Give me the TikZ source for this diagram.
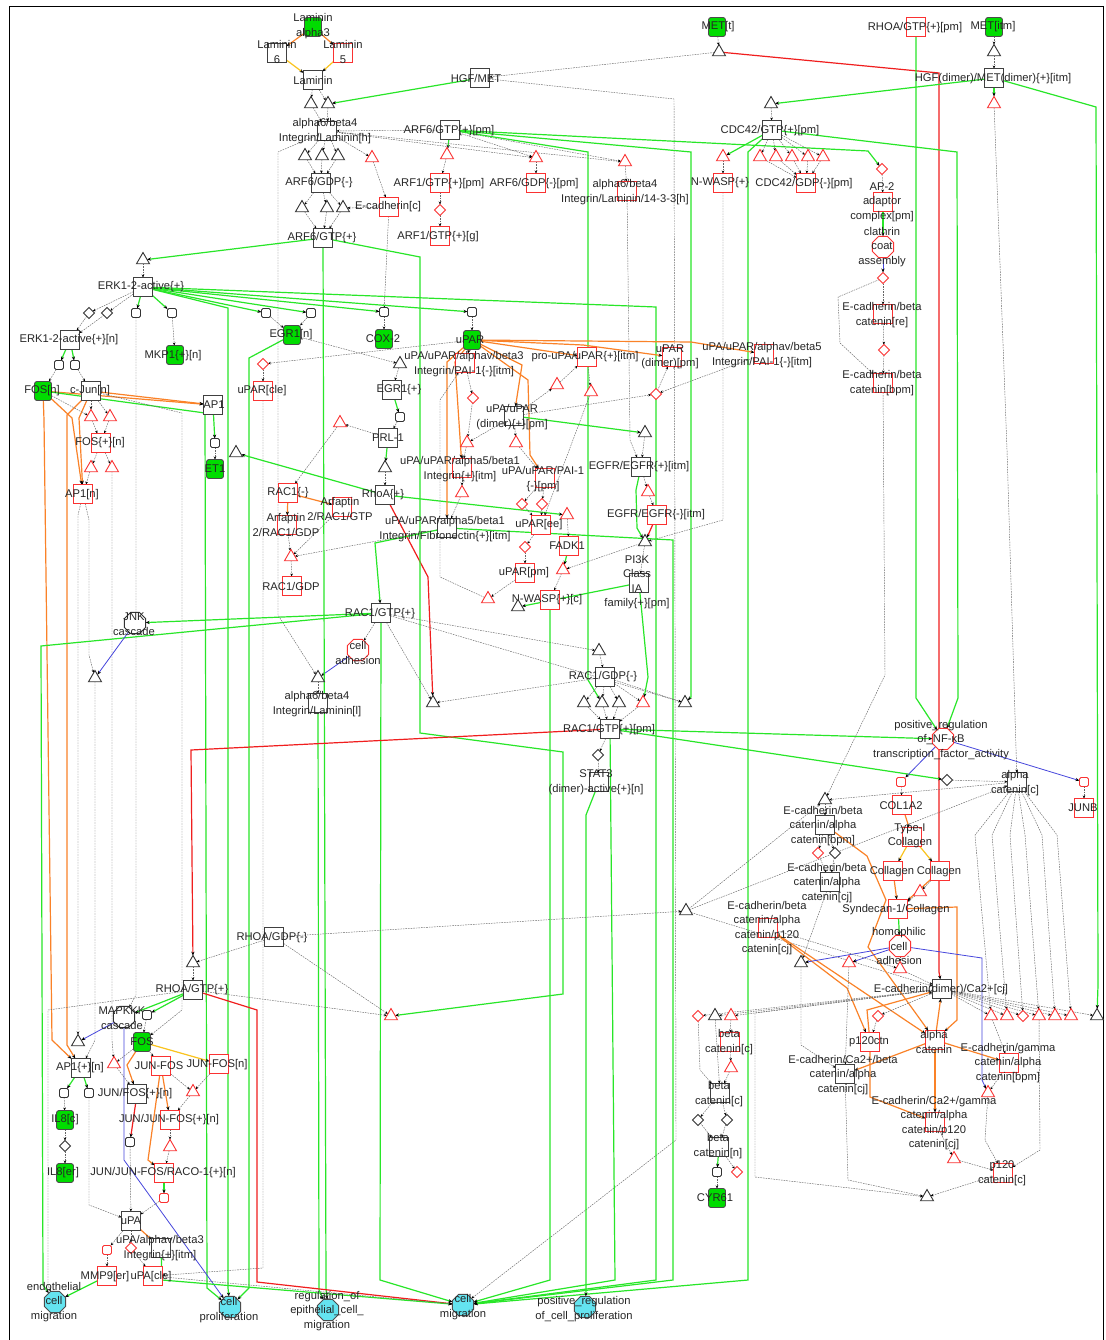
\documentclass[tikz,border=0pt]{standalone}
\usepackage{fontspec}
\setmainfont{Liberation Sans}
\usetikzlibrary{shapes.geometric,arrows.meta,backgrounds}
\definecolor{lgreen}{RGB}{40,230,40}
\definecolor{lorange}{RGB}{250,130,40}
\definecolor{lyellow}{RGB}{250,195,30}
\definecolor{lred}{RGB}{240,30,30}
\definecolor{lblue}{RGB}{70,70,220}
\definecolor{gfill}{RGB}{0,220,0}
\definecolor{cfill}{RGB}{100,228,240}
\definecolor{rbord}{RGB}{250,50,50}
\tikzset{
 nbase/.style={inner sep=0pt, outer sep=0pt, line width=0.9pt, fill=white},
 bsq/.style={nbase, rectangle, draw=black!75, minimum width=19pt, minimum height=19pt},
 rsq/.style={nbase, rectangle, draw=rbord, minimum width=19pt, minimum height=19pt},
 gsq/.style={nbase, rectangle, rounded corners=2.5pt, draw=black!70, fill=gfill, minimum width=17pt, minimum height=19pt},
 btri/.style={nbase, regular polygon, regular polygon sides=3, minimum size=15pt, draw=black!80},
 rtri/.style={btri, draw=rbord},
 bdia/.style={nbase, diamond, minimum size=11pt, draw=black!80},
 rdia/.style={bdia, draw=rbord},
 bss/.style={nbase, rectangle, rounded corners=1.5pt, minimum size=9pt, draw=black!80},
 rss/.style={bss, draw=rbord},
 boct/.style={nbase, regular polygon, regular polygon sides=8, minimum size=23pt, draw=black!80},
 roct/.style={boct, draw=rbord},
 coct/.style={boct, fill=cfill, draw=black!70},
 lbl/.style={inner sep=0pt, align=center, font=\fontsize{11.2}{14.5}\selectfont, text=black!85},
 arrtip/.style={-{Stealth[length=4pt,width=3.2pt,black]}},
 ge/.style={draw=lgreen, line width=1.2pt, arrtip},
 oe/.style={draw=lorange, line width=1.2pt, arrtip},
 ye/.style={draw=lyellow, line width=1.2pt, arrtip},
 re/.style={draw=lred, line width=1.2pt, arrtip},
 be/.style={draw=lblue, line width=0.8pt, arrtip},
 de/.style={draw=black!60, line width=0.45pt, dash pattern=on 1.6pt off 1pt, -{Stealth[length=3pt,width=2.5pt,black]}},
}
\newcommand\pn[5]{\node[#1] (#2) at (#3) {}; \node[lbl] at (#4) {#5};}
\begin{document}
\begin{tikzpicture}[x=1pt,y=-1pt]
\useasboundingbox (0,0) rectangle (1105,1340);
\draw[black, line width=1pt] (9,1342) -- (9,7) -- (1103,7) -- (1103,1342);

% ---------- nodes: top
\pn{gsq}{lama}{313,27}{313,26}{Laminin\\alpha3}
\pn{bsq}{lam6}{277,53}{277,52}{Laminin\\6}
\pn{rsq}{lam5}{343,53}{343,52}{Laminin\\5}
\pn{bsq}{lam}{313,80}{313,80}{Laminin}
\node[btri] (ta1) at (311,104) {};
\node[btri] (ta2) at (328,104) {};
\pn{bsq}{hgfmet}{480,78}{476,78}{HGF/MET}
\pn{gsq}{mett}{717,27}{718,27}{MET[t]}
\node[btri] (tmet) at (719,52) {};
\pn{rsq}{rhoapm}{916,27}{915,28}{RHOA/GTP\{+\}[pm]}
\pn{gsq}{metitm}{994,27}{993,27}{MET[itm]}
\node[btri] (tmi) at (994,52) {};
\pn{bsq}{hgfd}{994,78}{993,79}{HGF(dimer)/MET(dimer)\{+\}[itm]}
\node[rtri] (thd) at (994,104) {};

\pn{bsq}{a64h}{327,131}{325,131}{alpha6/beta4\\Integrin/Laminin[h]}
\node[btri] (tb1) at (305,156) {};
\node[btri] (tb2) at (322,156) {};
\node[btri] (tb3) at (338,156) {};
\pn{bsq}{arf6gdp}{321,183}{319,183}{ARF6/GDP\{-\}}
\node[btri] (tc1) at (302,208) {};
\node[btri] (tc2) at (327,208) {};
\node[btri] (tc3) at (343,208) {};
\pn{rsq}{ecadc}{389,207}{388,207}{E-cadherin[c]}
\pn{bsq}{arf6gtp}{323,238}{322,238}{ARF6/GTP\{+\}}
\node[rtri] (trx) at (372,158) {};
\pn{bsq}{arf6pm}{450,130}{449,131}{ARF6/GTP\{+\}[pm]}
\node[rtri] (tr1) at (447,155) {};
\pn{rsq}{arf1pm}{440,183}{439,184}{ARF1/GTP\{+\}[pm]}
\node[rtri] (tr2) at (536,158) {};
\pn{rsq}{arf6gdppm}{536,183}{534,184}{ARF6/GDP\{-\}[pm]}
\node[rtri] (tr3) at (625,162) {};
\pn{rsq}{a64143}{627,191}{625,192}{alpha6/beta4\\Integrin/Laminin/14-3-3[h]}
\node[rdia] (rd1) at (440,210) {};
\pn{rsq}{arf1g}{440,236}{438,237}{ARF1/GTP\{+\}[g]}

\pn{bsq}{cdc42}{772,130}{770,131}{CDC42/GTP\{+\}[pm]}
\node[btri] (tcd) at (771,104) {};
\node[rtri] (rt1) at (760,157) {};
\node[rtri] (rt2) at (776,157) {};
\node[rtri] (rt3) at (792,157) {};
\node[rtri] (rt4) at (808,157) {};
\node[rtri] (rt5) at (823,157) {};
\pn{rsq}{cdcgdp}{806,183}{804,184}{CDC42/GDP\{-\}[pm]}
\pn{rsq}{nwasp}{723,183}{720,183}{N-WASP\{+\}}
\node[rtri] (trn) at (723,157) {};
\node[rdia] (rd2) at (882,169) {};
\pn{rsq}{ap2}{883,202}{882,202}{AP-2\\adaptor\\complex[pm]}
\pn{roct}{clath}{883,247}{882,247}{clathrin\\coat\\assembly}
\node[rdia] (rd3) at (883,278) {};
\pn{rsq}{ecadre}{883,314}{882,315}{E-cadherin/beta\\catenin[re]}
\node[rdia] (rd4) at (884,350) {};
\pn{rsq}{ecadbpm}{883,383}{882,383}{E-cadherin/beta\\catenin[bpm]}

% ---------- ERK area
\node[btri] (tek) at (143,260) {};
\pn{bsq}{erk}{143,287}{141,287}{ERK1-2-active\{+\}}
\node[bdia] (bd1) at (89,313) {};
\node[bdia] (bd2) at (107,313) {};
\node[bss] (bs1) at (136,313) {};
\node[bss] (bs2) at (172,313) {};
\pn{bsq}{erkn}{70,340}{69,340}{ERK1-2-active\{+\}[n]}
\pn{gsq}{mkp1}{175,355}{173,356}{MKP1\{+\}[n]}
\node[bss] (bs3) at (59,365) {};
\node[bss] (bs4) at (75,365) {};
\pn{gsq}{fosn}{43,391}{42,391}{FOS[n]}
\pn{bsq}{cjun}{91,391}{90,391}{c-Jun[n]}
\pn{bsq}{ap1}{213,405}{214,405}{AP1}
\node[bss] (bs5) at (215,443) {};
\pn{gsq}{et1}{215,469}{215,469}{ET1}
\node[bss] (bs6) at (266,313) {};
\node[bss] (bs7) at (311,313) {};
\pn{gsq}{egr1n}{292,335}{291,335}{EGR1[n]}
\node[rdia] (rd5) at (263,364) {};
\pn{rsq}{uparcle}{263,391}{262,391}{uPAR[cle]}
\node[rtri] (rt6) at (91,417) {};
\node[rtri] (rt7) at (110,417) {};
\pn{rsq}{fosp}{101,443}{100,443}{FOS\{+\}[n]}
\node[rtri] (rt8) at (91,468) {};
\node[rtri] (rt9) at (112,468) {};
\pn{rsq}{ap1n}{83,494}{82,495}{AP1[n]}
\node[btri] (bt1) at (236,453) {};
\node[bss] (bs8) at (384,312) {};
\pn{gsq}{cox2}{384,339}{383,339}{COX-2}
\node[bss] (bs9) at (472,312) {};
\pn{gsq}{upar}{472,340}{470,340}{uPAR}
\node[btri] (bt2) at (400,364) {};
\pn{bsq}{egr1p}{392,390}{399,390}{EGR1\{+\}}
\node[bss] (bs10) at (400,417) {};
\pn{bsq}{prl1}{388,438}{388,438}{PRL-1}
\node[btri] (bt3) at (385,468) {};
\pn{bsq}{rhoa}{385,495}{383,495}{RhoA\{+\}}
\node[rtri] (rt10) at (340,423) {};
\pn{rsq}{rac1m}{288,493}{288,493}{RAC1\{-\}}
\pn{rsq}{arfgtp}{342,507}{340,509}{Arfaptin\\2/RAC1/GTP}
\pn{rsq}{arfgdp}{287,525}{286,525}{Arfaptin\\2/RAC1/GDP}
\node[rtri] (rt11) at (291,557) {};
\pn{rsq}{rac1gdp}{292,586}{291,586}{RAC1/GDP}
\pn{boct}{jnk}{135,623}{134,624}{JNK\\cascade}
\node[btri] (bt4) at (95,678) {};
\node[btri] (bt5) at (318,678) {};
\pn{bsq}{a64l}{318,703}{317,704}{alpha6/beta4\\Integrin/Laminin[l]}
\pn{roct}{celladh}{358,650}{358,653}{cell\\adhesion}
\pn{bsq}{rac1gtp}{381,613}{380,614}{RAC1/GTP\{+\}}

% ---------- middle cluster
\pn{rsq}{a3}{465,363}{464,364}{uPA/uPAR/alphav/beta3\\Integrin/PAI-1\{-\}[itm]}
\pn{rsq}{prou}{587,357}{585,357}{pro-uPA/uPAR\{+\}[itm]}
\pn{rsq}{upard}{672,357}{670,357}{uPAR\\(dimer)[pm]}
\pn{rsq}{a5}{764,354}{762,355}{uPA/uPAR/alphav/beta5\\Integrin/PAI-1\{-\}[itm]}
\node[rdia] (rd6) at (473,398) {};
\node[rtri] (rt12) at (557,385) {};
\node[rtri] (rt13) at (591,392) {};
\node[rdia] (rd7) at (656,394) {};
\pn{bsq}{uud}{514,416}{512,417}{uPA/uPAR\\(dimer)\{+\}[pm]}
\node[btri] (bt6) at (645,433) {};
\node[rtri] (rt14) at (467,443) {};
\node[rtri] (rt15) at (516,443) {};
\pn{rsq}{a5b1}{462,468}{460,469}{uPA/uPAR/alpha5/beta1\\Integrin\{+\}[itm]}
\pn{rsq}{pai1pm}{545,478}{543,479}{uPA/uPAR/PAI-1\\\{-\}[pm]}
\pn{bsq}{egfrp}{641,467}{639,467}{EGFR/EGFR\{+\}[itm]}
\node[rtri] (rt16) at (648,492) {};
\pn{rsq}{egfrm}{657,515}{656,515}{EGFR/EGFR\{-\}[itm]}
\node[rtri] (rt17) at (462,493) {};
\node[rdia] (rd8) at (522,504) {};
\node[rdia] (rd9) at (542,504) {};
\node[rtri] (rt18) at (567,515) {};
\pn{rsq}{uparee}{541,525}{539,525}{uPAR[ee]}
\pn{bsq}{fib}{447,528}{445,529}{uPA/uPAR/alpha5/beta1\\Integrin/Fibronectin\{+\}[itm]}
\node[btri] (bt7) at (645,542) {};
\pn{rsq}{fadk}{569,546}{567,546}{FADK1}
\node[rdia] (rd10) at (525,547) {};
\pn{bsq}{pi3k}{639,583}{637,582}{PI3K\\Class\\IA\\family\{+\}[pm]}
\node[rtri] (rt19) at (563,570) {};
\pn{rsq}{uparpm}{525,573}{524,573}{uPAR[pm]}
\node[rtri] (rt20) at (488,599) {};
\pn{rsq}{nwaspc}{550,600}{547,600}{N-WASP\{+\}[c]}
\node[btri] (bt8) at (518,607) {};
\node[btri] (bt9) at (599,651) {};
\pn{bsq}{rac1gdpm}{605,677}{603,677}{RAC1/GDP\{-\}}
\node[btri] (bt10) at (584,703) {};
\node[btri] (bt11) at (602,703) {};
\node[btri] (bt12) at (619,703) {};
\node[rtri] (rt21) at (643,703) {};
\node[btri] (bt13) at (685,703) {};
\node[btri] (bt14) at (433,703) {};
\pn{bsq}{rac1pm}{610,729}{609,730}{RAC1/GTP\{+\}[pm]}
\node[bdia] (bd3) at (598,755) {};
\pn{bsq}{stat3}{599,782}{596,782}{STAT3\\(dimer)-active\{+\}[n]}

% ---------- right side
\pn{roct}{nfkb}{943,739}{941,740}{positive\_regulation\\of\_NF-κB\\transcription\_factor\_activity}
\node[rss] (rs1) at (901,782) {};
\node[rss] (rs2) at (1084,782) {};
\node[bdia] (bd4) at (947,780) {};
\pn{bsq}{alcat}{1017,782}{1015,783}{alpha\\catenin[c]}
\pn{rsq}{col1a2}{902,805}{901,806}{COL1A2}
\pn{rsq}{junb}{1084,808}{1083,808}{JUNB}
\node[btri] (bt15) at (825,800) {};
\pn{bsq}{ecbpm}{825,825}{823,826}{E-cadherin/beta\\catenin/alpha\\catenin[bpm]}
\pn{rsq}{type1}{912,837}{910,836}{Type-I\\Collagen}
\node[rdia] (rd11) at (818,853) {};
\node[bdia] (bd5) at (835,853) {};
\pn{rsq}{coll1}{893,871}{892,872}{Collagen}
\pn{rsq}{coll2}{940,871}{939,872}{Collagen}
\pn{bsq}{eccj}{830,882}{827,883}{E-cadherin/beta\\catenin/alpha\\catenin[cj]}
\node[rtri] (rt22) at (920,892) {};
\node[btri] (bt16) at (686,911) {};
\pn{rsq}{synd}{898,909}{896,910}{Syndecan-1/Collagen}
\pn{rsq}{ecp120}{768,928}{767,928}{E-cadherin/beta\\catenin/alpha\\catenin/p120\\catenin[cj]}
\pn{roct}{homo}{900,946}{899,946}{homophilic\\cell\\adhesion}
\node[btri] (bt17) at (801,963) {};
\node[rtri] (rt23) at (849,963) {};
\node[rtri] (rt24) at (900,969) {};
\pn{bsq}{ecdim}{942,989}{941,990}{E-cadherin(dimer)/Ca2+[cj]}
\node[rtri] (rw1) at (991,1016) {};
\node[rtri] (rw2) at (1007,1016) {};
\node[rdia] (rw3) at (1023,1016) {};
\node[rtri] (rw4) at (1039,1016) {};
\node[rtri] (rw5) at (1055,1016) {};
\node[rtri] (rw6) at (1071,1016) {};
\node[btri] (rw7) at (1097,1016) {};
\node[rdia] (rd12) at (878,1016) {};
\node[rdia] (rd13) at (698,1016) {};
\node[btri] (bt18) at (715,1016) {};
\node[rtri] (rt25) at (731,1016) {};
\pn{rsq}{p120ctn}{870,1042}{869,1042}{p120ctn}
\pn{rsq}{alcat2}{935,1040}{934,1042}{alpha\\catenin}
\pn{bsq}{ecb2}{845,1074}{843,1075}{E-cadherin/Ca2+/beta\\catenin/alpha\\catenin[cj]}
\pn{rsq}{ecg}{1009,1063}{1008,1063}{E-cadherin/gamma\\catenin/alpha\\catenin[bpm]}
\node[rtri] (rt26) at (988,1093) {};
\pn{rsq}{ecg2}{935,1122}{934,1123}{E-cadherin/Ca2+/gamma\\catenin/alpha\\catenin/p120\\catenin[cj]}
\node[rtri] (rt27) at (954,1159) {};
\pn{rsq}{p120c}{1003,1173}{1002,1173}{p120\\catenin[c]}
\node[btri] (bt19) at (927,1197) {};

% beta catenin column
\pn{rsq}{bcat1}{730,1042}{729,1042}{beta\\catenin[c]}
\node[rtri] (rt28) at (731,1068) {};
\pn{bsq}{bcat2}{720,1093}{719,1094}{beta\\catenin[c]}
\node[bdia] (bd6) at (698,1120) {};
\node[bdia] (bd7) at (727,1120) {};
\pn{bsq}{bcat3}{719,1147}{718,1146}{beta\\catenin[n]}
\node[rdia] (rd14) at (737,1172) {};
\node[bss] (bs11) at (717,1172) {};
\pn{gsq}{cyr61}{717,1198}{715,1198}{CYR61}

% ---------- bottom left
\pn{bsq}{rhoagdp}{274,937}{272,938}{RHOA/GDP\{-\}}
\node[btri] (bt20) at (193,963) {};
\pn{bsq}{rhoagtp}{193,990}{192,990}{RHOA/GTP\{+\}}
\node[rtri] (rt29) at (391,1016) {};
\pn{boct}{mapkkk}{124,1017}{122,1018}{MAPKKK\\cascade}
\node[bss] (bs12) at (147,1015) {};
\pn{gsq}{fos}{142,1042}{142,1042}{FOS}
\node[btri] (bt21) at (78,1042) {};
\pn{bsq}{ap1pn}{81,1068}{80,1068}{AP1\{+\}[n]}
\node[rtri] (rt30) at (114,1064) {};
\pn{rsq}{junfos}{161,1066}{159,1066}{JUN-FOS}
\pn{rsq}{junfosn}{219,1064}{217,1065}{JUN-FOS[n]}
\node[bss] (bs13) at (64,1093) {};
\node[bss] (bs14) at (89,1093) {};
\pn{bsq}{junfos2}{137,1094}{135,1094}{JUN/FOS\{+\}[n]}
\node[rtri] (rt31) at (193,1092) {};
\pn{gsq}{il8c}{65,1120}{65,1120}{IL8[c]}
\pn{rsq}{jjf}{170,1120}{169,1120}{JUN/JUN-FOS\{+\}[n]}
\node[bdia] (bd8) at (65,1146) {};
\node[bss] (bs15) at (130,1142) {};
\node[rtri] (rt32) at (170,1147) {};
\pn{gsq}{il8er}{65,1173}{63,1173}{IL8[er]}
\pn{rsq}{raco}{164,1173}{163,1173}{JUN/JUN-FOS/RACO-1\{+\}[n]}
\node[rss] (rs3) at (164,1198) {};
\pn{bsq}{upa}{131,1221}{131,1221}{uPA}
\node[rss] (rs4) at (107,1250) {};
\node[rdia] (rd15) at (131,1248) {};
\pn{bsq}{uab3}{161,1248}{160,1248}{uPA/alphav/beta3\\Integrin\{+\}[itm]}
\pn{rsq}{mmp9}{107,1276}{105,1277}{MMP9[er]}
\pn{rsq}{upacle}{153,1276}{151,1277}{uPA[cle]}
\pn{coct}{endo}{55,1302}{54,1302}{endothelial\\cell\\migration}
\pn{coct}{cellprol}{230,1307}{229,1310}{cell\\proliferation}
\pn{coct}{regep}{328,1310}{327,1311}{regulation\_of\\epithelial\_cell\_\\migration}
\pn{coct}{cellmig}{463,1305}{463,1307}{cell\\migration}
\pn{coct}{posprol}{585,1307}{584,1309}{positive\_regulation\\of\_cell\_proliferation}

% ================= edges
\begin{pgfonlayer}{background}
\fill[white] (0,0) rectangle (1105,1340);
% top
\draw[oe] (lama) -- (lam6); \draw[oe] (lama) -- (lam5);
\draw[ye] (lam6) -- (lam); \draw[ye] (lam5) -- (lam);
\draw[de] (lam) -- (ta1); \draw[de] (lam) -- (ta2);
\draw[de] (ta1) -- (a64h); \draw[de] (ta2) -- (a64h);
\draw[ge] (hgfmet) -- (ta2);
\draw[de] (mett) -- (tmet); \draw[de] (tmet) -- (hgfmet);
\draw[re] (tmet) -- (939,73) -- (939,972) -- (ecdim);
\draw[de] (metitm) -- (tmi); \draw[de] (tmi) -- (hgfd);
\draw[ge] (hgfd) -- (tcd);
\draw[ge] (hgfd) -- (1096,107) -- (1098,985) -- (rw7);
\draw[ge] (hgfd) -- (thd);
\draw[de] (thd) -- (1007,450) -- (alcat);
\draw[ge] (rhoapm) -- (916,698) -- (nfkb);
\draw[de] (hgfmet) -- (674,99) -- (676,1140) -- (cellmig);
% ARF6
\foreach \nn in {tb1,tb2,tb3} {\draw[de] (a64h) -- (\nn); \draw[de] (\nn) -- (arf6gdp);}
\foreach \nn in {tc1,tc2,tc3} {\draw[de] (arf6gdp) -- (\nn); \draw[de] (\nn) -- (arf6gtp);}
\draw[de] (a64h) -- (trx); \draw[de] (trx) -- (ecadc); \draw[de] (ecadc) -- (tc3);
\draw[de] (ecadc) -- (bs8);
\draw[ge] (arf6pm) -- (tr1);
\draw[de] (tr1) -- (arf1pm); \draw[de] (arf1pm) -- (rd1); \draw[de] (rd1) -- (arf1g);
\draw[de] (arf6pm) -- (tr2); \draw[de] (tr2) -- (arf6gdppm);
\draw[de] (arf6pm) -- (tr3); \draw[de] (tr3) -- (a64143);
\draw[de] (a64h) -- (tr2); \draw[de] (a64h) -- (tr3); \draw[de] (arf6pm) -- (a64h);
\draw[ge] (arf6pm) -- (588,152) -- (588,680) -- (bt11);
\draw[ge] (arf6pm) -- (691,152) -- (691,697) -- (bt13);
\draw[ge] (arf6pm) -- (868,151) -- (rd2);
\draw[ge] (cdc42) -- (trn);
\draw[ge] (cdc42) -- (748,152) -- (748,1280) -- (cellmig);
\draw[ge] (cdc42) -- (957,152) -- (958,698) -- (nfkb);
\draw[de] (tcd) -- (cdc42);
\foreach \nn in {rt1,rt2,rt3,rt4,rt5} {\draw[de] (cdc42) -- (\nn); \draw[de] (\nn) -- (cdcgdp);}
\draw[de] (trn) -- (nwasp);
\draw[de] (nwasp) -- (723,520) -- (bt7);
\draw[de] (a64143) -- (630,440) -- (egfrp);
% ERK
\draw[ge] (arf6gtp) -- (tek);
\draw[de] (tek) -- (erk);
\draw[de] (erk) -- (bd1); \draw[de] (erk) -- (bd2); \draw[de] (bd1) -- (erkn); \draw[de] (bd2) -- (erkn);
\draw[ge] (erk) -- (bs1); \draw[ge] (erk) -- (bs2);
\draw[de] (bs2) -- (mkp1);
\draw[de] (bs1) -- (136,995) -- (mapkkk);
\draw[ge] (erkn) -- (bs3); \draw[ge] (erkn) -- (bs4);
\draw[de] (bs3) -- (fosn); \draw[de] (bs4) -- (cjun);
\draw[ge] (erk) -- (bs6); \draw[ge] (erk) -- (bs7);
\draw[de] (bs6) -- (egr1n); \draw[de] (bs7) -- (egr1n);
\draw[ge] (erk) -- (bs8); \draw[ge] (erk) -- (bs9);
\draw[ge] (erk) -- (656,307) -- (656,1280) -- (cellmig);
\draw[ge] (erk) -- (228,308) -- (228,1288) -- (cellprol);
\draw[ge] (egr1n) -- (249,358) -- (249,1288) -- (cellprol);
\draw[oe] (fosn) -- (ap1); \draw[oe] (cjun) -- (ap1);
\draw[ge] (fosn) -- (205,413) -- (207,1288) -- (cellprol);
\draw[ge] (ap1) -- (bs5); \draw[de] (bs5) -- (et1);
\draw[oe] (fosn) -- (72,418) -- (ap1n);
\draw[oe] (cjun) -- (79,418) -- (ap1n);
\draw[oe] (fosn) -- (44,420) -- (52,1040) -- (ap1pn);
\draw[oe] (cjun) -- (67,415) -- (67,1045) -- (ap1pn);
\draw[de] (fosn) -- (rt6); \draw[de] (cjun) -- (rt6); \draw[de] (cjun) -- (rt7);
\draw[de] (rt6) -- (fosp); \draw[de] (rt7) -- (fosp);
\draw[de] (fosp) -- (rt8); \draw[de] (fosp) -- (rt9); \draw[de] (rt8) -- (ap1n);
\draw[de] (rt9) -- (112,1040) -- (rt30);
\draw[de] (ap1n) -- (78,515) -- (bt21);
\draw[de] (ap1n) -- (89,520) -- (89,655) -- (bt4);
\draw[de] (bt4) -- (95,1040) -- (ap1pn);
\draw[de] (cjun) -- (182,413) -- (182,1010) -- (fos);
\draw[de] (egr1n) -- (bt2); \draw[de] (bt2) -- (egr1p);
\draw[ge] (egr1p) -- (bs10); \draw[de] (bs10) -- (prl1);
\draw[ge] (prl1) -- (bt3); \draw[de] (bt3) -- (rhoa);
\draw[de] (upar) -- (rd5); \draw[de] (rd5) -- (uparcle);
\draw[de] (uparcle) -- (263,1268) -- (upacle);
\draw[de] (bs8) -- (cox2); \draw[de] (bs9) -- (upar);
% RAC1
\draw[de] (prl1) -- (rt10); \draw[de] (rt10) -- (rac1m);
\draw[oe] (rac1m) -- (arfgtp); \draw[oe] (rac1m) -- (arfgdp);
\draw[de] (arfgdp) -- (rt11); \draw[de] (arfgtp) -- (rt11); \draw[de] (rt11) -- (rac1gdp);
\draw[de] (fib) -- (rt11);
\draw[ge] (rhoa) -- (bt1);
\draw[ge] (rhoa) -- (rt18);
\draw[re] (rhoa) -- (428,577) -- (bt14);
\draw[ge] (rac1gtp) -- (jnk);
\draw[ge] (rac1gtp) -- (41,646) -- (43,1285) -- (endo);
\draw[be] (jnk) -- (bt4);
\draw[be] (celladh) -- (bt5);
\draw[de] (rac1gtp) -- (celladh);
\draw[de] (bt5) -- (a64l);
\draw[de] (a64h) -- (278,152) -- (278,615) -- (bt5);
\draw[ge] (a64l) -- (319,1290) -- (regep);
\draw[ge] (arf6gtp) -- (326,1288) -- (regep);
\draw[ge] (arf6gtp) -- (420,257) -- (420,733) -- (563,752) -- (563,994) -- (rt29);
\draw[ge] (fib) -- (375,543) -- (rac1gtp);
\draw[ge] (fib) -- (673,540) -- (673,1280) -- (cellmig);
\draw[ge] (rac1gtp) -- (380,1280) -- (cellmig);
\draw[de] (rac1gtp) -- (bt9); \draw[de] (rac1gtp) -- (bt13); \draw[de] (rac1gtp) -- (bt14);
\draw[de] (bt9) -- (rac1gdpm);
\foreach \nn in {bt10,bt11,bt12,rt21,bt13} {\draw[de] (rac1gdpm) -- (\nn);}
\foreach \nn in {bt10,bt11,bt12,rt21} {\draw[de] (\nn) -- (rac1pm);}
\draw[de] (rac1gdpm) -- (bt14);
\draw[ge] (pi3k) -- (648,677) -- (rt21);
\draw[ge] (pi3k) -- (bt8);
\draw[ge] (nwaspc) -- (550,1280) -- (cellmig);
\draw[ge] (egfrp) -- (636,490) -- (637,528) -- (bt7);
\draw[re] (egfrm) -- (bt7);
\draw[de] (bt7) -- (pi3k);
\draw[de] (egfrp) -- (rt16); \draw[de] (rt16) -- (egfrm);
\draw[ge] (rac1pm) -- (nfkb);
\draw[ge] (rac1pm) -- (bd4);
\draw[re] (rac1pm) -- (191,750) -- (bt20);
\draw[ge] (rac1pm) -- (615,1280) -- (cellmig);
\draw[de] (rac1pm) -- (bd3); \draw[de] (bd3) -- (stat3);
\draw[ge] (stat3) -- (586,815) -- (586,1292) -- (posprol);
% uPAR cluster
\draw[oe] (upar) -- (a3);
\draw[oe] (upar) -- (prou);
\draw[oe] (upar) -- (583,345) -- (upard);
\draw[oe] (upar) -- (691,342) -- (a5);
\draw[oe] (upar) -- (447,362) -- (fib);
\draw[oe] (upar) -- (455,362) -- (a5b1);
\draw[oe] (upar) -- (528,380) -- (530,455) -- (pai1pm);
\draw[oe] (upar) -- (522,365) -- (uud);
\draw[de] (a3) -- (rd6); \draw[de] (rd6) -- (rt14);
\draw[de] (uud) -- (rt14); \draw[de] (rt14) -- (a5b1);
\draw[de] (uud) -- (rt15); \draw[de] (rt15) -- (pai1pm);
\draw[de] (a5b1) -- (rt17); \draw[de] (rt17) -- (fib);
\draw[de] (uud) -- (rt12); \draw[de] (rt12) -- (prou);
\draw[de] (prou) -- (rt13); \draw[de] (rt13) -- (uparee);
\draw[de] (uud) -- (rd7); \draw[de] (rd7) -- (upard); \draw[de] (a5) -- (rd7);
\draw[ge] (uud) -- (bt6); \draw[de] (bt6) -- (egfrp);
\draw[de] (pai1pm) -- (rd8); \draw[de] (pai1pm) -- (rd9);
\draw[de] (rd8) -- (uparee); \draw[de] (rd9) -- (uparee);
\draw[de] (uparee) -- (rd10); \draw[de] (rd10) -- (uparpm);
\draw[de] (rt18) -- (fadk);
\draw[ge] (fadk) -- (rt19); \draw[de] (rt19) -- (nwaspc); \draw[de] (bt7) -- (rt19);
\draw[de] (uparpm) -- (rt20);
\draw[de] (rt20) -- (440,577) -- (440,400) -- (a3);
% right side
\draw[de] (rd2) -- (ap2); \draw[ge] (ap2) -- (clath); \draw[be] (clath) -- (rd3);
\draw[de] (rd3) -- (ecadre); \draw[de] (ecadre) -- (rd4); \draw[de] (rd4) -- (ecadbpm);
\draw[de] (rd3) -- (838,297) -- (840,343) -- (ecadbpm);
\draw[de] (ecadbpm) -- (885,675) -- (bt15);
\draw[be] (nfkb) -- (rs1); \draw[be] (nfkb) -- (rs2);
\draw[de] (rs1) -- (col1a2); \draw[de] (rs2) -- (junb);
\draw[oe] (col1a2) -- (type1); \draw[ye] (type1) -- (coll1); \draw[ye] (type1) -- (coll2);
\draw[de] (bt15) -- (ecbpm);
\draw[de] (alcat) -- (bt15); \draw[de] (bd4) -- (alcat);
\draw[de] (rhoagdp) -- (bt16); \draw[de] (bt16) -- (alcat); \draw[de] (bt16) -- (ecdim);
\draw[de] (bt16) -- (bt15);
\draw[de] (ecbpm) -- (rd11); \draw[de] (ecbpm) -- (bd5); \draw[de] (rd11) -- (eccj); \draw[de] (bd5) -- (eccj);
\draw[oe] (ecbpm) -- (867,856) -- (886,900) -- (868,947) -- (alcat2);
\draw[oe] (coll1) -- (synd); \draw[oe] (coll2) -- (synd);
\draw[oe] (synd) -- (957,907) -- (957,1020) -- (alcat2);
\draw[ge] (synd) -- (homo);
\draw[oe] (ecp120) -- (847,988) -- (p120ctn);
\draw[oe] (ecp120) -- (alcat2);
\draw[oe] (p120ctn) -- (867,1010) -- (ecdim);
\draw[oe] (alcat2) -- (ecdim);
\draw[oe] (p120ctn) -- (870,1097) -- (ecg2);
\draw[oe] (alcat2) -- (ecb2); \draw[oe] (alcat2) -- (ecg); \draw[oe] (alcat2) -- (ecg2);
\draw[be] (homo) -- (bt17); \draw[be] (homo) -- (rt23);
\draw[be] (homo) -- (982,958) -- (982,1080) -- (rt26);
\draw[de] (homo) -- (rt24); \draw[de] (rt24) -- (ecdim); \draw[de] (ecp120) -- (rt24);
\draw[de] (coll2) -- (rt22); \draw[de] (rt22) -- (synd);
\foreach \nn in {rw1,rw2,rw3,rw4,rw5,rw6,rw7} {\draw[de] (ecdim) -- (\nn);}
\foreach \nn/\xx in {rw1/975,rw2/992,rw3/1010,rw4/1025,rw5/1042,rw6/1057} {\draw[de] (alcat) -- (\xx,835) -- (\nn);}
\draw[de] (ecdim) -- (rd12); \draw[de] (rd12) -- (p120ctn);
\draw[de] (ecdim) -- (rd13); \draw[de] (ecdim) -- (bt18); \draw[de] (ecdim) -- (rt25);
\draw[de] (ecdim) -- (755,1013) -- (755,1177) -- (bt19);
\draw[de] (ecb2) -- (848,1180) -- (bt19);
\draw[de] (p120c) -- (bt19);
\draw[de] (ecg2) -- (rt27); \draw[de] (rt27) -- (p120c);
\draw[de] (ecg) -- (rt26); \draw[de] (rt26) -- (985,1140) -- (p120c);
\draw[de] (rw4) -- (1040,1150) -- (p120c); \draw[de] (rw1) -- (ecg);
\draw[de] (eccj) -- (bt17); \draw[de] (bt17) -- (801,1045) -- (ecb2);
\draw[de] (rt23) -- (ecb2);
% beta catenin
\draw[de] (rt25) -- (bcat1); \draw[de] (bcat1) -- (rt28); \draw[de] (rt28) -- (bcat2);
\draw[de] (rd13) -- (700,1070) -- (bcat2); \draw[de] (bt18) -- (bcat2);
\draw[de] (bcat2) -- (bd6); \draw[de] (bcat2) -- (bd7); \draw[de] (bd6) -- (bcat3); \draw[de] (bd7) -- (bcat3);
\draw[ge] (bcat3) -- (bs11); \draw[de] (bs11) -- (cyr61); \draw[de] (bcat3) -- (rd14);
% bottom left
\draw[de] (rhoagdp) -- (bt20); \draw[de] (bt20) -- (rhoagtp);
\draw[re] (rhoagtp) -- (257,1010) -- (257,1282) -- (cellmig);
\draw[ge] (rhoagtp) -- (bs12); \draw[ge] (rhoagtp) -- (mapkkk);
\draw[de] (rhoagtp) -- (rt29); \draw[de] (rhoagdp) -- (rt29);
\draw[de] (rhoagtp) -- (48,1010) -- (48,1285) -- (endo);
\draw[be] (mapkkk) -- (bt21);
\draw[be] (mapkkk) -- (124,1160) -- (cellprol);
\draw[de] (bs12) -- (fos);
\draw[ye] (fos) -- (junfosn);
\draw[oe] (fos) -- (127,1065) -- (junfos2);
\draw[de] (fos) -- (junfos);
\draw[de] (fos) -- (rt30); \draw[de] (rt30) -- (junfos2);
\draw[oe] (junfos) -- (jjf);
\draw[oe] (junfos) -- (148,1160) -- (raco);
\draw[de] (junfos) -- (rt31); \draw[de] (junfosn) -- (rt31); \draw[de] (rt31) -- (jjf);
\draw[de] (jjf) -- (rt32); \draw[de] (rt32) -- (raco);
\draw[re] (junfos2) -- (bs15);
\draw[de] (bs15) -- (upa);
\draw[ge] (ap1pn) -- (bs13); \draw[ge] (ap1pn) -- (bs14);
\draw[de] (bs13) -- (il8c); \draw[de] (il8c) -- (bd8); \draw[de] (bd8) -- (il8er);
\draw[de] (bs14) -- (89,1205) -- (upa);
\draw[ge] (raco) -- (rs3); \draw[de] (rs3) -- (upa);
\draw[oe] (upa) -- (uab3);
\draw[de] (upa) -- (rs4); \draw[de] (rs4) -- (mmp9); \draw[de] (upa) -- (rd15); \draw[de] (rd15) -- (upacle);
\draw[ge] (uab3) -- (162,1280) -- (cellmig);
\draw[ge] (mmp9) -- (endo);
\draw[de] (upacle) -- (cellmig);
\end{pgfonlayer}
\end{tikzpicture}
\end{document}
